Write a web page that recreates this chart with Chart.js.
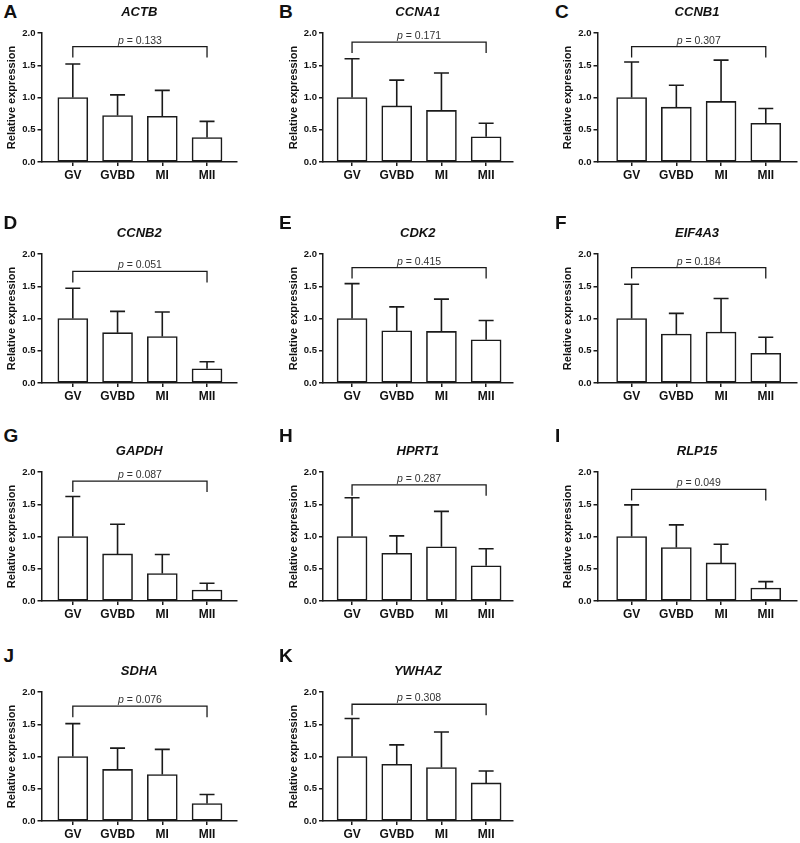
<!DOCTYPE html>
<html>
<head>
<meta charset="utf-8">
<script src="https://cdn.jsdelivr.net/npm/chart.js@4.4.1/dist/chart.umd.min.js"></script>
<style>
  body { margin: 0; background: #fff; width: 800px; height: 843px; position: relative; overflow: hidden; }
  canvas { position: absolute; }
  .tag { position: absolute; font: bold 19px "Liberation Sans", Arial, sans-serif; line-height: 19px; color: #111; }
</style>
</head>
<body>
<script>
// ---- data ----
const stages = ["GV", "GVBD", "MI", "MII"];
const yTicks = ["0.0", "0.5", "1.0", "1.5", "2.0"];
const genes = ["ACTB", "CCNA1", "CCNB1", "CCNB2", "CDK2", "EIF4A3", "GAPDH", "HPRT1", "RLP15", "SDHA", "YWHAZ"];
const tags = ["A", "B", "C", "D", "E", "F", "G", "H", "I", "J", "K"];

const actbMean = [1.0, 0.72, 0.71, 0.38];
const actbSd = [0.52, 0.32, 0.40, 0.25];
const ccna1Mean = [1.0, 0.87, 0.80, 0.39];
const ccna1Sd = [0.60, 0.40, 0.58, 0.21];
const ccnb1Mean = [1.0, 0.85, 0.94, 0.60];
const ccnb1Sd = [0.55, 0.34, 0.64, 0.23];
const ccnb2Mean = [1.0, 0.78, 0.72, 0.22];
const ccnb2Sd = [0.47, 0.33, 0.38, 0.11];
const cdk2Mean = [1.0, 0.81, 0.80, 0.67];
const cdk2Sd = [0.54, 0.37, 0.50, 0.30];
const eif4a3Mean = [1.0, 0.76, 0.79, 0.46];
const eif4a3Sd = [0.53, 0.32, 0.52, 0.25];
const gapdhMean = [1.0, 0.73, 0.425, 0.17];
const gapdhSd = [0.62, 0.46, 0.295, 0.105];
const hprt1Mean = [1.0, 0.74, 0.84, 0.545];
const hprt1Sd = [0.60, 0.27, 0.55, 0.265];
const rlp15Mean = [1.0, 0.83, 0.59, 0.20];
const rlp15Sd = [0.49, 0.35, 0.29, 0.10];
const sdhaMean = [1.0, 0.80, 0.72, 0.27];
const sdhaSd = [0.51, 0.33, 0.39, 0.14];
const ywhazMean = [1.0, 0.88, 0.83, 0.59];
const ywhazSd = [0.59, 0.30, 0.55, 0.185];

// GV vs MII comparison
const pValues = ["0.133", "0.171", "0.307", "0.051", "0.415", "0.184", "0.087", "0.287", "0.049", "0.076", "0.308"];
const bracketLevel = [1.79, 1.86, 1.79, 1.73, 1.79, 1.79, 1.86, 1.80, 1.73, 1.78, 1.81];

const means = [actbMean, ccna1Mean, ccnb1Mean, ccnb2Mean, cdk2Mean, eif4a3Mean, gapdhMean, hprt1Mean, rlp15Mean, sdhaMean, ywhazMean];
const sds = [actbSd, ccna1Sd, ccnb1Sd, ccnb2Sd, cdk2Sd, eif4a3Sd, gapdhSd, hprt1Sd, rlp15Sd, sdhaSd, ywhazSd];

// ---- layout ----
const FONT = '"Liberation Sans", Arial, sans-serif';
const ink = "#1a1a1a";
const colX = [0, 265, 530], colW = [265, 265, 270];
const rowY = [0, 210, 420, 630], canvasH = 213;
const plotLeft = [41.5, 323, 597.5], plotRight = [237, 512.5, 796.5];
const plotTop = [33, 254, 472, 692], plotH = 129;
const xMin = [0.3, 0.35, 0.237], xMax = [4.67, 4.59, 4.687];
const tagX = [3.5, 279, 555], tagY = [2.2, 213, 425.6, 646];
const YW = 36, XH = 20;

// error bars, GV-MII bracket, p value and gene title
const panelExtras = {
  id: "panelExtras",
  afterDraw(chart, args, o) {
    const { ctx, chartArea, scales: { x, y } } = chart;
    ctx.save();
    ctx.strokeStyle = ink;
    ctx.lineWidth = 1.6;
    o.mean.forEach((m, k) => {
      const px = x.getPixelForValue(k + 1);
      const y0 = y.getPixelForValue(m);
      const y1 = y.getPixelForValue(m + o.sd[k]);
      ctx.beginPath();
      ctx.moveTo(px, y0);
      ctx.lineTo(px, y1);
      ctx.moveTo(px - 7.5, y1);
      ctx.lineTo(px + 7.5, y1);
      ctx.stroke();
    });

    const xa = x.getPixelForValue(1), xb = x.getPixelForValue(4);
    const yt = y.getPixelForValue(o.bracket);
    const yl = y.getPixelForValue(o.bracket - 0.17);
    ctx.lineWidth = 1.3;
    ctx.beginPath();
    ctx.moveTo(xa, yl);
    ctx.lineTo(xa, yt);
    ctx.lineTo(xb, yt);
    ctx.lineTo(xb, yl);
    ctx.stroke();

    ctx.fillStyle = "#333";
    ctx.textBaseline = "alphabetic";
    ctx.textAlign = "left";
    const pItalic = "italic 10.5px " + FONT, pReg = "10.5px " + FONT;
    ctx.font = pItalic;
    const w1 = ctx.measureText("p").width;
    ctx.font = pReg;
    const rest = " = " + o.p;
    const w2 = ctx.measureText(rest).width;
    const sx = (xa + xb) / 2 - (w1 + w2) / 2;
    ctx.font = pItalic;
    ctx.fillText("p", sx, yt - 3);
    ctx.font = pReg;
    ctx.fillText(rest, sx + w1, yt - 3);

    ctx.fillStyle = "#111";
    ctx.textAlign = "center";
    ctx.font = "italic bold 13px " + FONT;
    ctx.fillText(o.gene, (chartArea.left + chartArea.right) / 2, chartArea.top - 17.5);
    ctx.restore();
  },
};

genes.forEach((gene, i) => {
  const col = i % 3, row = Math.floor(i / 3);
  const ox = colX[col], oy = rowY[row], cw = colW[col];
  const L = plotLeft[col] - ox, R = plotRight[col] - ox;
  const T = plotTop[row] - oy, B = T + plotH;

  const tag = document.createElement("div");
  tag.className = "tag";
  tag.textContent = tags[i];
  tag.style.left = tagX[col] + "px";
  tag.style.top = tagY[row] + "px";
  document.body.appendChild(tag);

  const cv = document.createElement("canvas");
  cv.width = cw;
  cv.height = canvasH;
  cv.style.left = ox + "px";
  cv.style.top = oy + "px";
  document.body.appendChild(cv);

  new Chart(cv, {
    type: "bar",
    data: {
      datasets: [
        {
          data: means[i].map((v, k) => ({ x: k + 1, y: v })),
          backgroundColor: "#fff",
          borderColor: ink,
          borderWidth: 1.6,
          borderSkipped: false,
          barThickness: 30,
        },
      ],
    },
    options: {
      responsive: false,
      animation: false,
      events: [],
      layout: { padding: { left: L - YW, top: T, right: cw - R, bottom: canvasH - B - XH } },
      plugins: {
        legend: { display: false },
        tooltip: { enabled: false },
        panelExtras: { mean: means[i], sd: sds[i], bracket: bracketLevel[i], p: pValues[i], gene: gene },
      },
      scales: {
        x: {
          type: "linear",
          min: xMin[col],
          max: xMax[col],
          offset: false,
          afterBuildTicks: (s) => {
            s.ticks = stages.map((_, k) => ({ value: k + 1 }));
          },
          afterFit: (s) => {
            s.height = XH;
          },
          ticks: {
            callback: (v) => stages[Math.round(v) - 1],
            autoSkip: false,
            maxRotation: 0,
            padding: 2,
            color: "#111",
            font: { family: FONT, size: 12, weight: "bold" },
          },
          grid: { offset: false, drawOnChartArea: false, tickLength: 4, color: ink, lineWidth: 1.5 },
          border: { color: ink, width: 1.5 },
        },
        y: {
          min: 0,
          max: 2,
          afterFit: (s) => {
            s.width = YW;
          },
          ticks: {
            stepSize: 0.5,
            callback: (v, k) => yTicks[k],
            padding: 2,
            color: "#111",
            font: { family: FONT, size: 9.5, weight: "bold" },
          },
          grid: { drawOnChartArea: false, tickLength: 4, color: ink, lineWidth: 1.5 },
          border: { color: ink, width: 1.5 },
          title: {
            display: true,
            text: "Relative expression",
            padding: 0,
            color: "#111",
            font: { family: FONT, size: 11, weight: "bold" },
          },
        },
      },
    },
    plugins: [panelExtras],
  });
});
</script>
</body>
</html>
